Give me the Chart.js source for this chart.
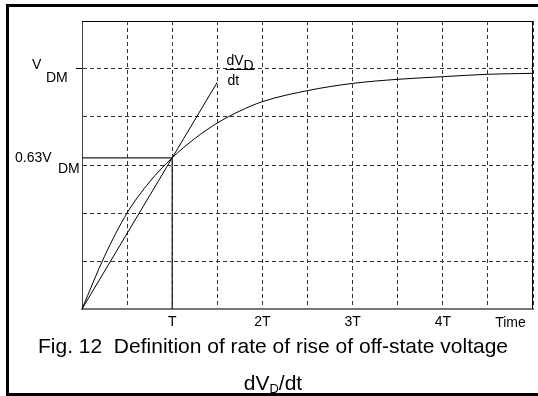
<!DOCTYPE html>
<html>
<head>
<meta charset="utf-8">
<script src="https://cdn.jsdelivr.net/npm/chart.js@4/dist/chart.umd.min.js"></script>
<style>
  html, body { margin: 0; padding: 0; background: #fff; }
  #wrap { position: relative; width: 538px; height: 396px; overflow: hidden; font-family: "Liberation Sans", Arial, sans-serif; }
  #frame { position: absolute; left: 6px; top: 4px; width: 545px; height: 392px; border: 3px solid #000; box-sizing: border-box; }
  canvas { position: absolute; left: 0; top: 0; }
  .cap { position: absolute; left: 0; width: 546px; text-align: center; font-size: 21px; line-height: 24px; color: #000; white-space: nowrap; }
  .cap sub { font-size: 13px; vertical-align: -3px; line-height: 0; }
</style>
</head>
<body>
<div id="wrap">
  <div id="frame"></div>
  <canvas id="chart" width="538" height="396"></canvas>
  <div class="cap" style="top:334px">Fig. 12&nbsp;&nbsp;Definition of rate of rise of off-state voltage</div>
  <div class="cap" style="top:371px">dV<sub>D</sub>/dt</div>
</div>
<script>
// time in units of T, voltage in units of V_DM
const curveT = [0, 0.25, 0.5, 0.75, 1, 1.25, 1.5, 1.75, 2, 2.5, 3, 3.5, 4, 4.5, 5]
const curveV = [0, 0.22, 0.40, 0.53, 0.63, 0.71, 0.775, 0.825, 0.864, 0.91, 0.94, 0.957, 0.968, 0.978, 0.982]
const tangentT = [0, 1.5]
const tangentV = [0, 0.945]
const markT = [0, 1, 1]
const markV = [0.63, 0.63, 0]
const gridX = [0, 0.5, 1, 1.5, 2, 2.5, 3, 3.5, 4, 4.5, 5]
const gridY = [0, 0.2, 0.4, 0.6, 0.8, 1.0, 1.2]
const xTickLabels = {1: 'T', 2: '2T', 3: '3T', 4: '4T'}
const timeLabelAt = 4.75
const vdmLevel = 1.0
const markLevel = 0.63
const slopeLabelAt = [1.59, 1.91]

const pts = (xs, ys) => xs.map((x, i) => ({x: x, y: ys[i]}))
const FONT = '"Liberation Sans", Arial, sans-serif'

const labels = {
    id: 'labels',
    beforeDatasetsDraw(chart) {
        const {ctx, chartArea: a} = chart
        ctx.save()
        ctx.strokeStyle = '#000'
        ctx.lineWidth = 1
        ctx.beginPath()
        ctx.moveTo(a.left, a.top + 0.5)
        ctx.lineTo(a.right, a.top + 0.5)
        ctx.moveTo(a.right - 0.5, a.top)
        ctx.lineTo(a.right - 0.5, a.bottom)
        ctx.stroke()
        ctx.restore()
    },
    afterDatasetsDraw(chart) {
        const {ctx, scales: {x, y}} = chart
        ctx.save()
        ctx.fillStyle = '#000'
        ctx.font = '14px ' + FONT
        ctx.textBaseline = 'alphabetic'
        ctx.textAlign = 'left'

        const yv = y.getPixelForValue(vdmLevel)
        ctx.fillText('V', 32, yv)
        ctx.fillText('DM', 46, yv + 13)

        const ym = y.getPixelForValue(markLevel)
        ctx.fillText('0.63V', 15, ym + 4)
        ctx.fillText('DM', 58, ym + 15)

        // dV_D / dt
        const x0 = x.getPixelForValue(slopeLabelAt[0])
        const x1 = x.getPixelForValue(slopeLabelAt[1])
        ctx.strokeStyle = '#000'
        ctx.lineWidth = 1
        ctx.beginPath()
        ctx.moveTo(x0, Math.round(yv) + 0.5)
        ctx.lineTo(x1, Math.round(yv) + 0.5)
        ctx.stroke()
        ctx.fillText('dV', x0 + 1, yv - 4)
        ctx.fillText('D', x0 + 18, yv + 1)
        ctx.fillText('dt', x0 + 2, yv + 16)

        ctx.textAlign = 'center'
        ctx.fillText('Time', x.getPixelForValue(timeLabelAt), y.bottom + 18)
        ctx.restore()
    }
}

new Chart(document.getElementById('chart'), {
    type: 'scatter',
    data: {
        datasets: [
            {data: pts(curveT, curveV), showLine: true, borderColor: '#000', borderWidth: 1, pointRadius: 0, cubicInterpolationMode: 'monotone'},
            {data: pts(tangentT, tangentV), showLine: true, borderColor: '#000', borderWidth: 1, pointRadius: 0},
            {data: pts(markT, markV), showLine: true, borderColor: '#222', borderWidth: 1.3, pointRadius: 0}
        ]
    },
    options: {
        responsive: false,
        animation: false,
        devicePixelRatio: 1,
        layout: {padding: {top: 21, right: 3, left: 0, bottom: 0}},
        plugins: {legend: {display: false}, tooltip: {enabled: false}},
        scales: {
            x: {
                type: 'linear', min: 0, max: 5,
                afterBuildTicks: s => { s.ticks = gridX.map(v => ({value: v})) },
                afterFit: s => { s.height = 87 },
                ticks: {
                    autoSkip: false, maxRotation: 0, padding: 5, color: '#000',
                    font: {family: FONT, size: 14},
                    callback: v => xTickLabels[v] || ''
                },
                grid: {color: '#333', drawTicks: false},
                border: {color: '#777', width: 2, dash: [4, 3]}
            },
            y: {
                type: 'linear', min: 0, max: 1.2,
                afterBuildTicks: s => { s.ticks = gridY.map(v => ({value: v})) },
                afterFit: s => { s.width = 82 },
                ticks: {display: false},
                grid: {
                    color: '#333', tickLength: 6,
                    tickColor: c => (c.tick && c.tick.value === vdmLevel) ? '#000' : 'rgba(0,0,0,0)'
                },
                border: {color: '#444', width: 1, dash: [4, 3]}
            }
        }
    },
    plugins: [labels]
})
</script>
</body>
</html>
